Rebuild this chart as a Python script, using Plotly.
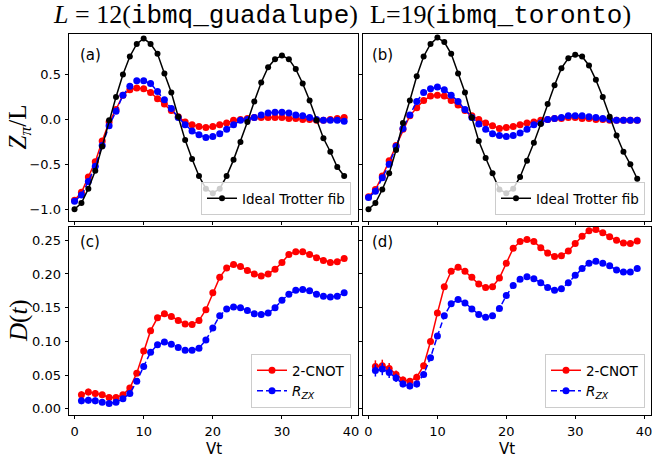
import plotly.graph_objects as go

# ---------------- data ----------------
x_z = list(range(0, 40))
x_d = list(range(1, 40))

ideal_a = [-1.00, -0.93, -0.77, -0.57, -0.30, -0.01, 0.25, 0.50, 0.70, 0.84,
           0.90, 0.84, 0.73, 0.51, 0.30, 0.03, -0.23, -0.44, -0.63, -0.77,
           -0.82, -0.77, -0.63, -0.45, -0.25, -0.03, 0.20, 0.41, 0.58, 0.67,
           0.71, 0.67, 0.56, 0.40, 0.21, -0.01, -0.21, -0.36, -0.53, -0.63]
cnot_a = [-0.90, -0.81, -0.64, -0.47, -0.24, -0.03, 0.11, 0.27, 0.33, 0.35,
          0.34, 0.30, 0.23, 0.17, 0.10, 0.03, -0.03, -0.06, -0.08, -0.09,
          -0.08, -0.06, -0.04, -0.01, 0.00, 0.01, 0.02, 0.02, 0.02, 0.02,
          0.02, 0.01, 0.01, 0.00, 0.00, -0.01, -0.01, 0.00, 0.01, 0.02]
rzx_a = [-0.91, -0.84, -0.69, -0.52, -0.29, -0.07, 0.09, 0.27, 0.37, 0.43,
         0.43, 0.40, 0.31, 0.22, 0.12, 0.02, -0.06, -0.13, -0.17, -0.20,
         -0.19, -0.16, -0.11, -0.06, -0.01, 0.00, 0.02, 0.05, 0.07, 0.08,
         0.08, 0.07, 0.05, 0.04, 0.02, 0.00, -0.01, -0.01, -0.01, -0.02]

ideal_b = [-1.00, -0.93, -0.78, -0.60, -0.34, -0.04, 0.21, 0.48, 0.70, 0.84,
           0.91, 0.86, 0.73, 0.51, 0.30, 0.02, -0.24, -0.43, -0.60, -0.78,
           -0.82, -0.77, -0.64, -0.46, -0.26, -0.05, 0.17, 0.38, 0.57, 0.68,
           0.72, 0.70, 0.60, 0.44, 0.25, 0.03, -0.18, -0.36, -0.50, -0.66]
cnot_b = [-0.86, -0.78, -0.63, -0.46, -0.29, -0.11, 0.04, 0.13, 0.21, 0.26,
          0.27, 0.26, 0.21, 0.16, 0.10, 0.04, 0.00, -0.04, -0.07, -0.10,
          -0.09, -0.08, -0.06, -0.04, -0.03, -0.01, 0.00, 0.01, 0.01, 0.02,
          0.02, 0.01, 0.01, 0.00, 0.00, -0.01, -0.01, -0.01, -0.01, -0.01]
rzx_b = [-0.87, -0.80, -0.65, -0.50, -0.30, -0.10, 0.05, 0.20, 0.30, 0.34,
         0.36, 0.33, 0.27, 0.20, 0.11, 0.02, -0.05, -0.11, -0.16, -0.18,
         -0.19, -0.18, -0.15, -0.11, -0.06, -0.04, 0.00, 0.01, 0.02, 0.04,
         0.04, 0.04, 0.03, 0.02, 0.01, 0.00, -0.01, -0.01, -0.01, -0.01]

cnot_c = [0.021, 0.025, 0.023, 0.021, 0.017, 0.017, 0.021, 0.031, 0.053, 0.086,
          0.116, 0.135, 0.141, 0.137, 0.131, 0.126, 0.125, 0.131, 0.147, 0.172,
          0.195, 0.209, 0.214, 0.211, 0.205, 0.200, 0.197, 0.200, 0.207, 0.217,
          0.229, 0.233, 0.233, 0.229, 0.224, 0.220, 0.217, 0.218, 0.223]
rzx_c = [0.012, 0.013, 0.012, 0.010, 0.008, 0.010, 0.015, 0.023, 0.041, 0.063,
         0.084, 0.095, 0.099, 0.096, 0.091, 0.087, 0.087, 0.090, 0.102, 0.120,
         0.138, 0.148, 0.151, 0.150, 0.146, 0.141, 0.140, 0.142, 0.150, 0.161,
         0.170, 0.176, 0.177, 0.175, 0.170, 0.167, 0.166, 0.167, 0.172]
err_c = [0.005, 0.005, 0.005, 0.004, 0.004, 0.004, 0.004, 0.003, 0.003, 0.003,
         0.002, 0.002, 0.002, 0.002, 0.002, 0.002, 0.002, 0.002, 0.002, 0.002,
         0.002, 0.002, 0.002, 0.002, 0.002, 0.002, 0.002, 0.002, 0.002, 0.002,
         0.002, 0.002, 0.002, 0.002, 0.002, 0.002, 0.002, 0.002, 0.002]

cnot_d = [0.063, 0.064, 0.060, 0.051, 0.043, 0.041, 0.047, 0.064, 0.100, 0.142,
          0.181, 0.204, 0.210, 0.204, 0.195, 0.185, 0.180, 0.181, 0.194, 0.216,
          0.238, 0.248, 0.251, 0.248, 0.239, 0.231, 0.226, 0.227, 0.234, 0.245,
          0.256, 0.264, 0.266, 0.261, 0.255, 0.250, 0.246, 0.245, 0.249]
rzx_d = [0.057, 0.059, 0.054, 0.046, 0.037, 0.034, 0.037, 0.051, 0.076, 0.108,
         0.138, 0.156, 0.162, 0.157, 0.148, 0.140, 0.136, 0.138, 0.149, 0.168,
         0.183, 0.192, 0.196, 0.193, 0.187, 0.180, 0.176, 0.178, 0.187, 0.198,
         0.208, 0.216, 0.219, 0.216, 0.212, 0.206, 0.203, 0.203, 0.208]
err_d = [0.009, 0.009, 0.008, 0.006, 0.005, 0.005, 0.005, 0.004, 0.003, 0.003,
         0.003, 0.003, 0.003, 0.003, 0.003, 0.003, 0.003, 0.003, 0.003, 0.003,
         0.003, 0.003, 0.003, 0.003, 0.003, 0.003, 0.003, 0.003, 0.003, 0.003,
         0.003, 0.003, 0.003, 0.003, 0.003, 0.003, 0.003, 0.003, 0.003]

x_ticks = [0, 10, 20, 30, 40]
z_ticks = [0.5, 0.0, -0.5, -1.0]
d_ticks = [0.00, 0.05, 0.10, 0.15, 0.20, 0.25]

# ---------------- layout helpers ----------------
W, H = 653, 458
def px(x):
    return x / W
def py(y):
    return 1 - y / H

RED = "#ff0000"
BLUE = "#0000ff"
BLACK = "#000000"
TICKFONT = dict(family="DejaVu Sans", size=13, color="black")

fig = go.Figure()

def z_panel(xa, ya, ideal, cnot, rzx, legend):
    fig.add_trace(go.Scatter(x=x_z, y=cnot, mode="lines+markers", xaxis=xa, yaxis=ya,
                             line=dict(color=RED, width=1.5),
                             marker=dict(color=RED, size=7), showlegend=False))
    fig.add_trace(go.Scatter(x=x_z, y=rzx, mode="lines+markers", xaxis=xa, yaxis=ya,
                             line=dict(color=BLUE, width=1.5, dash="6px,3px"),
                             marker=dict(color=BLUE, size=7), showlegend=False))
    fig.add_trace(go.Scatter(x=x_z, y=ideal, mode="lines+markers", xaxis=xa, yaxis=ya,
                             line=dict(color=BLACK, width=1.5),
                             marker=dict(color=BLACK, size=6),
                             name="Ideal Trotter fib", legend=legend))

def d_panel(xa, ya, cnot, rzx, err, legend):
    fig.add_trace(go.Scatter(x=x_d, y=cnot, mode="lines+markers", xaxis=xa, yaxis=ya,
                             line=dict(color=RED, width=1.5),
                             marker=dict(color=RED, size=7),
                             error_y=dict(type="data", array=err, color=RED,
                                          thickness=1.5, width=0),
                             name="2-CNOT", legend=legend))
    fig.add_trace(go.Scatter(x=x_d, y=rzx, mode="lines+markers", xaxis=xa, yaxis=ya,
                             line=dict(color=BLUE, width=1.5, dash="6px,3px"),
                             marker=dict(color=BLUE, size=7),
                             error_y=dict(type="data", array=err, color=BLUE,
                                          thickness=1.5, width=0),
                             name="<i>R</i><sub><i>ZX</i></sub>", legend=legend))

z_panel("x", "y", ideal_a, cnot_a, rzx_a, "legend")
z_panel("x2", "y2", ideal_b, cnot_b, rzx_b, "legend2")
d_panel("x3", "y3", cnot_c, rzx_c, err_c, "legend3")
d_panel("x4", "y4", cnot_d, rzx_d, err_d, "legend4")

LEFT = [px(69), px(358)]
RIGHT = [px(363), px(651)]
TOP = [py(221), py(34)]
BOT = [py(415), py(227)]
XR = [-0.8, 41.0]
ZR = [-1.13, 0.95]
DR = [-0.009, 0.2696]

def axis(domain, rng, anchor, tickvals, labels, fmt, standoff):
    return dict(domain=domain, range=rng, anchor=anchor, showgrid=False, zeroline=False,
                showline=True, mirror=True, linecolor="black", linewidth=0.8,
                ticks="outside", ticklen=3.5, tickwidth=0.8, tickcolor="black",
                tickvals=tickvals, tickformat=fmt, showticklabels=labels,
                ticklabelstandoff=standoff, tickfont=TICKFONT)

fig.update_layout(
    width=W, height=H, autosize=False,
    margin=dict(l=0, r=0, t=0, b=0),
    paper_bgcolor="white", plot_bgcolor="white",
    xaxis=axis(LEFT, XR, "y", x_ticks, False, "d", 1),
    yaxis=axis(TOP, ZR, "x", z_ticks, True, ".1f", 1),
    xaxis2=axis(RIGHT, XR, "y2", x_ticks, False, "d", 1),
    yaxis2=axis(TOP, ZR, "x2", z_ticks, False, ".1f", 1),
    xaxis3=axis(LEFT, XR, "y3", x_ticks, True, "d", 1),
    yaxis3=axis(BOT, DR, "x3", d_ticks, True, ".2f", 1),
    xaxis4=axis(RIGHT, XR, "y4", x_ticks, True, "d", 1),
    yaxis4=axis(BOT, DR, "x4", d_ticks, False, ".2f", 1),
)

LEG = dict(bgcolor="rgba(255,255,255,0.8)", bordercolor="#cccccc", borderwidth=1,
           font=dict(family="DejaVu Sans", size=13.5, color="black"),
           xanchor="right", yanchor="bottom", itemwidth=30, tracegroupgap=0)
fig.update_layout(
    legend=dict(LEG, x=px(351), y=py(215)),
    legend2=dict(LEG, x=px(645), y=py(215)),
    legend3=dict(LEG, x=px(351), y=py(408)),
    legend4=dict(LEG, x=px(645), y=py(408)),
)

ann = []
for lab, (cx, cy) in {"(a)": (90, 54.5), "(b)": (382, 54.5),
                      "(c)": (90, 241.5), "(d)": (382, 241.5)}.items():
    ann.append(dict(text=lab, x=px(cx), y=py(cy), xref="paper", yref="paper",
                    showarrow=False, xanchor="center", yanchor="middle",
                    font=dict(family="DejaVu Sans", size=15, color="black")))

SERIF = "Liberation Serif"
MONO = "Liberation Mono"
ann.append(dict(text='<i>L</i> = 12(<span style="font-family:' + MONO + '">ibmq_guadalupe</span>)',
                x=px(205), y=py(16), xref="paper", yref="paper", showarrow=False,
                xanchor="center", yanchor="middle",
                font=dict(family=SERIF, size=26, color="black")))
ann.append(dict(text='L=19(<span style="font-family:' + MONO + '">ibmq_toronto</span>)',
                x=px(500), y=py(16), xref="paper", yref="paper", showarrow=False,
                xanchor="center", yanchor="middle",
                font=dict(family=SERIF, size=26, color="black")))
ann.append(dict(text="<i>Z</i><sub><i>π</i></sub>/L", x=px(19), y=py(127.5),
                xref="paper", yref="paper", showarrow=False, textangle=-90,
                xanchor="center", yanchor="middle",
                font=dict(family=SERIF, size=25, color="black")))
ann.append(dict(text="<i>D</i>(<i>t</i>)", x=px(19), y=py(321),
                xref="paper", yref="paper", showarrow=False, textangle=-90,
                xanchor="center", yanchor="middle",
                font=dict(family=SERIF, size=25, color="black")))
for cx in (213.5, 507):
    ann.append(dict(text="Vt", x=px(cx), y=py(449), xref="paper", yref="paper",
                    showarrow=False, xanchor="center", yanchor="middle",
                    font=dict(family="DejaVu Sans", size=15, color="black")))
fig.update_layout(annotations=ann)

fig.write_html("out.html")
